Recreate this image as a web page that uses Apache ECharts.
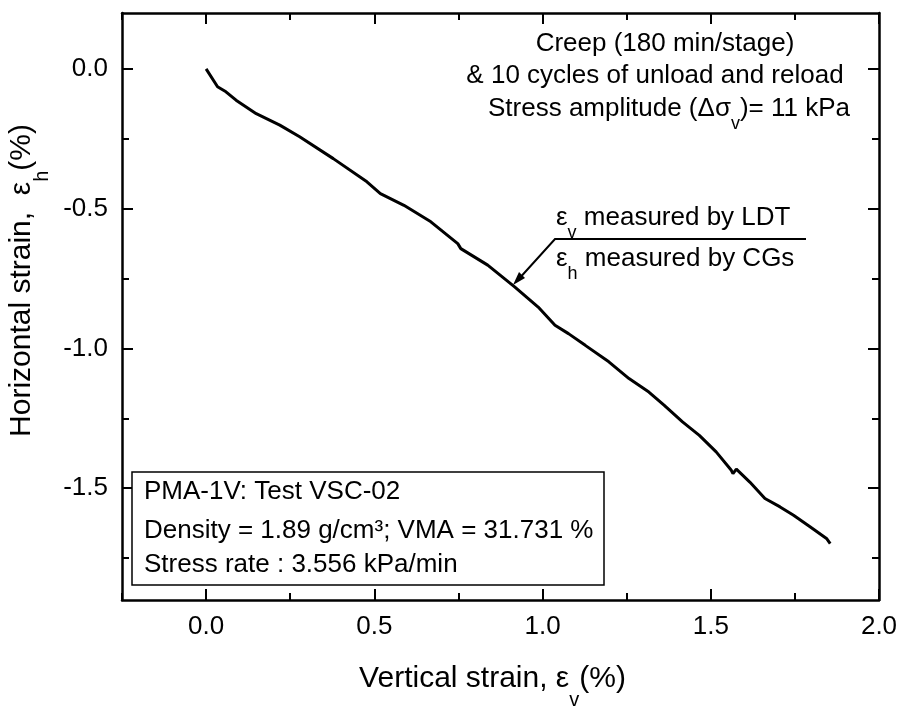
<!DOCTYPE html>
<html>
<head>
<meta charset="utf-8">
<script src="https://cdn.jsdelivr.net/npm/echarts@6/dist/echarts.min.js"></script>
<style>
  html, body { margin: 0; padding: 0; background: #fff; }
  #chart { width: 901px; height: 707px; }
</style>
</head>
<body>
<div id="chart"></div>
<script>
// vertical strain (x) and horizontal strain (y), in %
var strainV = [0.00, 0.034, 0.059, 0.089, 0.149, 0.219, 0.278, 0.378, 0.478, 0.518, 0.588, 0.668, 0.748, 0.757, 0.837, 0.917, 0.987, 1.037, 1.077, 1.127, 1.197, 1.257, 1.316, 1.361, 1.416, 1.466, 1.516, 1.561, 1.566, 1.576, 1.616, 1.661, 1.706, 1.746, 1.796, 1.845, 1.855];
var strainH = [0.00, -0.064, -0.082, -0.112, -0.160, -0.201, -0.243, -0.321, -0.404, -0.446, -0.488, -0.547, -0.625, -0.643, -0.702, -0.780, -0.852, -0.917, -0.947, -0.989, -1.048, -1.108, -1.156, -1.203, -1.263, -1.311, -1.370, -1.436, -1.448, -1.432, -1.478, -1.537, -1.567, -1.597, -1.639, -1.681, -1.698];

var xMajor = [0, 0.5, 1.0, 1.5, 2.0];
var xMinor = [-0.25, 0.25, 0.75, 1.25, 1.75];
var yMajor = [0, -0.5, -1.0, -1.5];
var yMinor = [-0.25, -0.75, -1.25, -1.75];

var FONT = '"Liberation Sans", Arial, sans-serif';
var chart = echarts.init(document.getElementById('chart'));

function axis(kind, pos, ticks, len, labels, showLine, name) {
  var a = {
    type: 'value',
    min: kind === 'x' ? -0.25 : -1.9,
    max: kind === 'x' ? 2.0 : 0.2,
    position: pos,
    axisLine: { show: showLine, onZero: false, lineStyle: { color: '#000', width: 2.5 } },
    axisTick: { show: true, inside: true, length: len, customValues: ticks, lineStyle: { color: '#000', width: 2 } },
    axisLabel: { show: false },
    splitLine: { show: false }
  };
  if (labels) {
    a.axisLabel = {
      show: true, customValues: labels, margin: 14,
      color: '#000', fontSize: 26, fontFamily: FONT,
      formatter: function (v) { return v.toFixed(1); }
    };
  }
  if (name) {
    a.name = name.text;
    a.nameLocation = 'middle';
    a.nameGap = name.gap;
    a.nameTextStyle = {
      color: '#000', fontFamily: FONT, padding: name.pad,
      rich: {
        n: { fontSize: 30, fontFamily: FONT, color: '#000', lineHeight: 46, verticalAlign: 'top' },
        s: { fontSize: 20, fontFamily: FONT, color: '#000', lineHeight: 20, verticalAlign: 'bottom' }
      }
    };
  }
  return a;
}

var subRich = {
  n: { fontSize: 26, fontFamily: FONT, fill: '#000', lineHeight: 38, verticalAlign: 'top' },
  s: { fontSize: 18, fontFamily: FONT, fill: '#000', lineHeight: 18, verticalAlign: 'bottom' }
};

function label(txt, x, y, align) {
  var rich = txt.indexOf('{') >= 0;
  return {
    type: 'text', z: 10,
    style: {
      text: txt, x: x, y: rich ? y + 6.5 : y, fill: '#000',
      font: '26px ' + FONT,
      textAlign: align || 'left', textVerticalAlign: 'middle',
      rich: subRich
    }
  };
}

chart.setOption({
  animation: false,
  backgroundColor: '#fff',
  grid: { left: 122, top: 13, right: 22, bottom: 107, containLabel: false, outerBoundsMode: 'none' },
  xAxis: [
    axis('x', 'bottom', xMajor, 11, xMajor, true, { text: '{n|Vertical strain, ε}{s|v}{n|(%)}', gap: 64, pad: [0, 16, 0, 0] }),
    axis('x', 'bottom', xMinor, 7, null, false),
    axis('x', 'top', xMajor, 11, null, true),
    axis('x', 'top', xMinor, 7, null, false)
  ],
  yAxis: [
    axis('y', 'left', yMajor, 11, yMajor, true, { text: '{n|Horizontal strain,  ε}{s|h}{n|(%)}', gap: 56, pad: [0, 0, 0, 52] }),
    axis('y', 'left', yMinor, 7, null, false),
    axis('y', 'right', yMajor, 11, null, true),
    axis('y', 'right', yMinor, 7, null, false)
  ],
  series: [{
    type: 'line',
    xAxisIndex: 0,
    yAxisIndex: 0,
    showSymbol: false,
    symbol: 'none',
    smooth: false,
    lineStyle: { color: '#000', width: 3 },
    data: strainV.map(function (v, i) { return [v, strainH[i]]; })
  }],
  graphic: [
    label('Creep (180 min/stage)', 665, 44, 'center'),
    label('& 10 cycles of unload and reload', 655, 76, 'center'),
    label('{n|Stress amplitude (Δσ}{s|v}{n|)= 11 kPa}', 669, 108, 'center'),
    label('{n|ε}{s|v}{n| measured by LDT}', 556, 217),
    label('{n|ε}{s|h}{n| measured by CGs}', 556, 258),
    {
      type: 'polyline', z: 10,
      shape: { points: [[806, 239], [555, 239], [517, 281]] },
      style: { stroke: '#000', lineWidth: 2, fill: null }
    },
    {
      type: 'polygon', z: 10,
      shape: { points: [[513, 285], [525, 278], [519, 272]] },
      style: { fill: '#000' }
    },
    {
      type: 'rect', z: 9,
      shape: { x: 132, y: 472, width: 472, height: 113 },
      style: { fill: '#fff', stroke: '#000', lineWidth: 1.5 }
    },
    label('PMA-1V: Test VSC-02', 144, 492),
    label('Density = 1.89 g/cm³; VMA = 31.731 %', 144, 531),
    label('Stress rate : 3.556 kPa/min', 144, 565)
  ]
});
</script>
</body>
</html>
